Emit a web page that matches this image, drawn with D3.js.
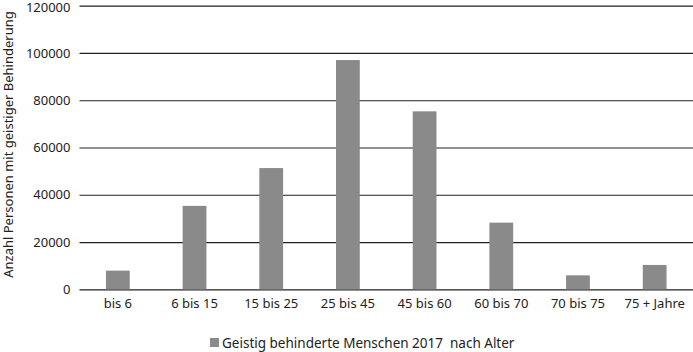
<!DOCTYPE html>
<html>
<head>
<meta charset="utf-8">
<script src="https://cdn.jsdelivr.net/npm/d3@7"></script>
<style>
  body { margin: 0; background: #fff; }
  text { font-family: "Noto Sans", sans-serif; fill: #222; }
</style>
</head>
<body>
<div id="chart"></div>
<script>
// Altersgruppen und Anzahl Personen
const categories = ['bis 6', '6 bis 15', '15 bis 25', '25 bis 45', '45 bis 60', '60 bis 70', '70 bis 75', '75 + Jahre'];
const values = [7900, 35300, 51300, 97000, 75300, 28200, 5900, 10300];
const yTicks = [0, 20000, 40000, 60000, 80000, 100000, 120000];
const seriesName = 'Geistig behinderte Menschen 2017  nach Alter';
const yTitle = 'Anzahl Personen mit geistiger Behinderung';

const width = 693, height = 352;
const margin = {top: 5.7, right: 0, bottom: 62.7, left: 79.5};
const innerW = width - margin.left - margin.right;
const innerH = height - margin.top - margin.bottom;

const svg = d3.select('#chart').append('svg')
    .attr('width', width)
    .attr('height', height);

const chart = svg.append('g')
    .attr('transform', `translate(${margin.left},${margin.top})`);

const x = d3.scaleBand()
    .domain(categories)
    .range([0, innerW])
    .paddingInner(0.69)
    .paddingOuter(0.345);

const y = d3.scaleLinear()
    .domain([0, 120000])
    .range([innerH, 0]);

// gridlines + tick labels
const yAxis = chart.append('g')
    .call(d3.axisLeft(y).tickValues(yTicks).tickSize(-innerW).tickPadding(9).tickFormat(d3.format('d')));
yAxis.select('.domain').remove();
yAxis.selectAll('.tick line').attr('stroke', '#222').attr('stroke-width', 1.2);
yAxis.selectAll('.tick text').attr('font-size', 13).attr('fill', '#222')
    .style('font-family', '"Noto Sans", sans-serif')
    .attr('dy', d => d === 120000 ? '0.42em' : '0.32em');

// bars
chart.selectAll('.bar')
    .data(values)
  .join('rect')
    .attr('class', 'bar')
    .attr('x', (d, i) => x(categories[i]))
    .attr('y', d => y(d))
    .attr('width', x.bandwidth())
    .attr('height', d => innerH - y(d))
    .attr('fill', '#8a8a8a');

// x labels
const xAxis = chart.append('g')
    .attr('transform', `translate(0,${innerH})`)
    .call(d3.axisBottom(x).tickSize(0).tickPadding(9));
xAxis.select('.domain').remove();
xAxis.selectAll('.tick text').attr('font-size', 13).attr('fill', '#222')
    .style('font-family', '"Noto Sans", sans-serif');

// y title
svg.append('text')
    .attr('transform', `translate(13,${margin.top + innerH / 2 - 3}) rotate(-90)`)
    .attr('text-anchor', 'middle')
    .attr('font-size', 13)
    .text(yTitle);

// legend
const legend = svg.append('g')
    .attr('transform', 'translate(210,338)');
legend.append('rect')
    .attr('width', 9)
    .attr('height', 9)
    .attr('fill', '#8a8a8a');
legend.append('text')
    .attr('x', 12)
    .attr('y', 9.5)
    .attr('font-size', 13.5)
    .style('white-space', 'pre')
    .text(seriesName);
</script>
</body>
</html>
